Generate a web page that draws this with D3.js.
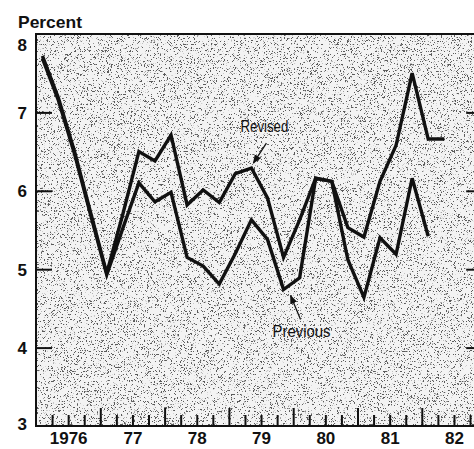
<!DOCTYPE html>
<html>
<head>
<meta charset="utf-8">
<script src="https://cdn.jsdelivr.net/npm/d3@7"></script>
<style>
  body { margin: 0; background: #fff; }
  svg { display: block; }
  .lbl { font-family: "Liberation Sans", Arial, Helvetica, sans-serif; font-weight: bold; font-size: 17px; fill: #111; }
  .note { font-family: "Liberation Sans", Arial, sans-serif; font-size: 17px; fill: #111; }
</style>
</head>
<body>
<svg id="chart" width="474" height="449"></svg>
<script>
// quarterly data, 1976Q1 .. 1982Q2
const quarters = ['1976Q1','1976Q2','1976Q3','1976Q4','1977Q1','1977Q2','1977Q3','1977Q4',
  '1978Q1','1978Q2','1978Q3','1978Q4','1979Q1','1979Q2','1979Q3','1979Q4',
  '1980Q1','1980Q2','1980Q3','1980Q4','1981Q1','1981Q2','1981Q3','1981Q4',
  '1982Q1','1982Q2'];

const revisedValues = [7.72, 7.18, 6.5, 5.72, 4.95, 5.7, 6.5, 6.38, 6.71, 5.82, 6.01, 5.85,
  6.22, 6.29, 5.91, 5.15, 5.63, 6.16, 6.12, 5.53, 5.41, 6.12, 6.58, 7.5, 6.66, 6.66];

const previousValues = [7.69, 7.15, 6.47, 5.69, 4.93, 5.52, 6.1, 5.86, 5.98, 5.15, 5.04, 4.81,
  5.2, 5.63, 5.38, 4.74, 4.89, 6.16, 6.12, 5.12, 4.64, 5.4, 5.19, 6.16, 5.42];

const yTicks = [3, 4, 5, 6, 7, 8];
const yearLabels = ['1976', '77', '78', '79', '80', '81', '82'];

let svg = d3.select('#chart');

// quarter string -> fractional year (points sit a little into the quarter)
let toYear = (q) => +q.slice(0, 4) + (+q.slice(5) - 1) / 4 + 0.1;

let xEnd = 1982.83;
let x = d3.scaleLinear().domain([1976, xEnd]).range([36, 36 + 64.3 * (xEnd - 1976)]);
let y = d3.scaleLinear().domain([3, 8]).range([426, 34]);

// stippled background
let defs = svg.append('defs');
let filt = defs.append('filter').attr('id', 'stipple')
  .attr('x', 0).attr('y', 0).attr('width', 1).attr('height', 1);
filt.append('feTurbulence').attr('type', 'fractalNoise')
  .attr('baseFrequency', 1.7).attr('numOctaves', 1).attr('seed', 5).attr('result', 'noise');
filt.append('feColorMatrix').attr('in', 'noise').attr('type', 'matrix')
  .attr('values', '0 0 0 0 0.1  0 0 0 0 0.1  0 0 0 0 0.1  15 0 0 0 -8.9')
  .attr('result', 'dots');
filt.append('feFlood').attr('flood-color', '#f3f3f3').attr('result', 'bg');
filt.append('feMerge').selectAll('feMergeNode').data(['bg', 'dots']).enter()
  .append('feMergeNode').attr('in', d => d);

svg.append('rect')
  .attr('x', x(1976)).attr('y', y(8))
  .attr('width', x(xEnd) - x(1976)).attr('height', y(3) - y(8))
  .attr('fill', '#ddd')
  .attr('filter', 'url(#stipple)');

// frame
svg.append('path')
  .attr('d', 'M' + x(xEnd) + ',' + y(8) + 'H' + x(1976) + 'V' + y(3) + 'H' + x(xEnd))
  .attr('stroke', '#111').attr('stroke-width', 2).attr('fill', 'none');

// y axis, ticks pointing inward
let yAxis = svg.append('g')
  .attr('transform', 'translate(' + x(1976) + ',0)')
  .call(d3.axisLeft(y).tickValues(yTicks).tickSizeInner(-16).tickSizeOuter(0).tickPadding(9).tickFormat(d3.format('d')));
yAxis.select('.domain').remove();
yAxis.selectAll('line').attr('stroke', '#111').attr('stroke-width', 2);
yAxis.selectAll('text').attr('class', 'lbl').style('font', null)
  .attr('dy', d => d === 8 ? '0.95em' : d === 3 ? '0.2em' : '0.36em');
yAxis.selectAll('.tick').filter(d => d === 3 || d === 8).select('line').remove();

let yRight = svg.append('g')
  .attr('transform', 'translate(' + (x(xEnd) - 1) + ',0)')
  .call(d3.axisRight(y).tickValues(yTicks.filter(d => d > 3 && d < 8)).tickSizeInner(-8).tickSizeOuter(0).tickFormat(''));
yRight.select('.domain').remove();
yRight.selectAll('line').attr('stroke', '#111').attr('stroke-width', 2);

// x axis: quarterly ticks, taller at year boundaries
let quarterTicks = d3.range(1976.25, xEnd, 0.25).filter(t => t % 1 !== 0);
let yearTicks = d3.range(1977, 1983);

let xMinor = svg.append('g').attr('transform', 'translate(0,' + y(3) + ')')
  .call(d3.axisBottom(x).tickValues(quarterTicks).tickSizeInner(-11).tickSizeOuter(0).tickFormat(''));
let xMajor = svg.append('g').attr('transform', 'translate(0,' + y(3) + ')')
  .call(d3.axisBottom(x).tickValues(yearTicks).tickSizeInner(-18).tickSizeOuter(0).tickFormat(''));
[xMinor, xMajor].forEach(a => {
  a.select('.domain').remove();
  a.selectAll('line').attr('stroke', '#111').attr('stroke-width', 2);
});

let xLabels = svg.append('g').attr('transform', 'translate(0,' + y(3) + ')')
  .call(d3.axisBottom(x).tickValues(yearLabels.map((d, i) => 1976.5 + i))
    .tickSize(0).tickPadding(6).tickFormat((d, i) => yearLabels[i]));
xLabels.select('.domain').remove();
xLabels.selectAll('text').attr('class', 'lbl').style('font', null);

svg.append('text').attr('class', 'lbl').attr('x', 18).attr('y', 28)
  .attr('textLength', 64).attr('lengthAdjust', 'spacingAndGlyphs').text('Percent');

// lines
let line = d3.line()
  .x((d, i) => x(toYear(quarters[i])))
  .y(d => y(d));

svg.append('path').datum(previousValues)
  .attr('d', line).attr('fill', 'none').attr('stroke', '#111')
  .attr('stroke-width', 3.4).attr('stroke-linejoin', 'miter');
svg.append('path').datum(revisedValues)
  .attr('d', line).attr('fill', 'none').attr('stroke', '#111')
  .attr('stroke-width', 3.4).attr('stroke-linejoin', 'miter');

// annotations
defs.append('marker').attr('id', 'head')
  .attr('viewBox', '0 0 10 10').attr('refX', 9).attr('refY', 5)
  .attr('markerWidth', 7).attr('markerHeight', 7).attr('orient', 'auto')
  .append('path').attr('d', 'M0,1 L10,5 L0,9 Z').attr('fill', '#111');

let revIdx = quarters.indexOf('1979Q2');
let prevIdx = quarters.indexOf('1979Q4');

svg.append('text').attr('class', 'note').attr('text-anchor', 'middle')
  .attr('x', x(toYear(quarters[revIdx])) + 13).attr('y', y(revisedValues[revIdx]) - 36)
  .attr('textLength', 48).attr('lengthAdjust', 'spacingAndGlyphs')
  .text('Revised');
svg.append('line')
  .attr('x1', x(toYear(quarters[revIdx])) + 15).attr('y1', y(revisedValues[revIdx]) - 25)
  .attr('x2', x(toYear(quarters[revIdx])) + 2).attr('y2', y(revisedValues[revIdx]) - 5)
  .attr('stroke', '#111').attr('stroke-width', 1.3).attr('marker-end', 'url(#head)');

svg.append('text').attr('class', 'note').attr('text-anchor', 'middle')
  .attr('x', x(toYear(quarters[prevIdx])) + 18).attr('y', y(previousValues[prevIdx]) + 47)
  .attr('textLength', 58).attr('lengthAdjust', 'spacingAndGlyphs')
  .text('Previous');
svg.append('line')
  .attr('x1', x(toYear(quarters[prevIdx])) + 17).attr('y1', y(previousValues[prevIdx]) + 30)
  .attr('x2', x(toYear(quarters[prevIdx])) + 7).attr('y2', y(previousValues[prevIdx]) + 6)
  .attr('stroke', '#111').attr('stroke-width', 1.3).attr('marker-end', 'url(#head)');
</script>
</body>
</html>
